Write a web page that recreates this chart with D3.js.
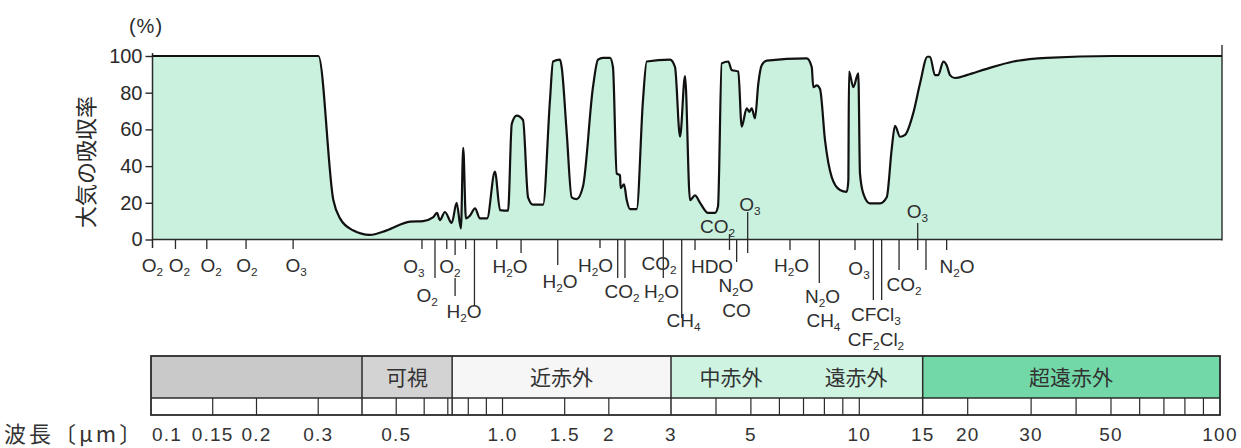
<!DOCTYPE html>
<html>
<head>
<meta charset="utf-8">
<script src="https://cdn.jsdelivr.net/npm/d3@7"></script>
<style>
  body { margin: 0; background: #fff; }
  svg { display: block; }
</style>
</head>
<body>
<svg id="chart" width="1241" height="448"></svg>
<script>
// ---- Atmospheric absorption spectrum: absorption (%) against wavelength (µm) ----
const wavelength = [
  0.1, 0.292, 0.3215, 0.3357, 0.365, 0.407, 0.454, 0.528, 0.574, 0.612,
  0.628, 0.640, 0.661, 0.691, 0.713, 0.733, 0.744, 0.757, 0.777, 0.803,
  0.829, 0.868, 0.913, 0.944, 0.994, 1.018, 1.051, 1.095, 1.131, 1.168,
  1.246, 1.303, 1.329, 1.390, 1.405, 1.452, 1.499, 1.548, 1.613, 1.720,
  1.777, 1.835, 1.920, 1.957, 2.005, 2.048, 2.057, 2.102, 2.139, 2.185,
  2.281, 2.376, 2.434, 2.829, 2.922, 3.018, 3.117, 3.219, 3.325, 3.435,
  3.616, 3.783, 3.857, 3.950, 4.122, 4.213, 4.397, 4.495, 4.642, 4.721,
  4.795, 4.898, 5.004, 5.115, 5.284, 6.841, 7.065, 7.139, 7.297, 7.455,
  7.70, 8.04, 8.48, 8.86, 8.95, 8.99, 9.243, 9.546, 9.65, 9.86,
  10.29, 10.98, 11.47, 11.84, 12.10, 12.50, 12.91, 13.62, 14.22, 14.92,
  15.17, 15.66, 16.00, 16.53, 16.89, 17.26, 17.82, 19.22, 21.88, 25.98,
  32.24, 49.46, 100
];
const absorption = [
  100, 100, 21.5, 11.5, 5, 2.5, 5, 9.7, 10, 12,
  14.5, 10.6, 15, 9, 20, 6, 50, 11.5, 13, 17,
  11.5, 11.5, 37, 16, 15.7, 63, 67.5, 65, 23, 19,
  19, 76, 97, 98, 94, 58, 23, 22, 29, 83,
  98, 99, 99, 94, 36, 35, 28, 30, 21.5, 16.6,
  16.6, 76, 97, 98, 94, 56, 89, 21.5, 24, 20,
  14.5, 14.5, 18, 96, 97, 92.4, 91.5, 61.5, 71.5, 69.6,
  71.5, 66, 85, 95, 97.5, 98.7, 94, 83, 84, 82,
  54, 34, 27, 26, 32, 91.5, 83, 90.5, 36, 25,
  19.7, 19.7, 23, 49, 62, 56, 57, 69, 85, 99.6,
  99.6, 89.6, 89.6, 97, 95, 89.6, 88, 89.6, 93, 97,
  99, 100, 100
];

const yTicks = [0, 20, 40, 60, 80, 100];

// Marker lines for absorbing gases (µm)
const markerAt = [
  0.116, 0.142, 0.183, 0.248, 0.570, 0.620, 0.669, 0.706, 0.706, 0.756,
  0.800, 0.924, 1.081, 1.370, 1.800, 2.018, 2.115, 2.709, 3.051, 3.325,
  4.154, 4.351, 4.672, 6.141, 7.420, 9.344, 10.52, 11.10, 12.42, 14.01,
  14.78, 16.89
];
// Gas names ("_n" = subscript) and the wavelength each name is centred on (µm)
const gasName = [
  "O_2", "O_2", "O_2", "O_2", "O_3", "O_3", "O_2", "O_2", "H_2O", "H_2O",
  "H_2O", "H_2O", "CO_2", "CO_2", "H_2O", "CH_4", "HDO", "CO_2", "N_2O", "CO",
  "O_3", "H_2O", "N_2O", "CH_4", "O_3", "CFCl_3", "CF_2Cl_2", "CO_2", "O_3", "N_2O"
];
const gasAt = [
  0.1, 0.119, 0.146, 0.184, 0.253, 0.541, 0.683, 0.589, 0.748, 1.007,
  1.390, 1.748, 2.075, 2.635, 2.678, 3.087, 3.711, 3.845, 4.331, 4.35,
  4.742, 6.200, 7.576, 7.62, 9.590, 10.70, 10.70, 12.82, 13.99, 18.06
];

// Wavelength regions of the spectrum bar
const regionEdges = [0.1, 0.4, 0.72, 3, 15, 100];
const regionNames = ["", "可視", "近赤外", "", "超遠赤外"];
const subRegionNames = ["中赤外", "遠赤外"];
const subRegionAt = [4.4, 9.8];
const scaleTicks = [0.15, 0.2, 0.3, 0.5, 0.6, 0.7, 0.8, 0.9, 1, 1.5, 2,
  4, 5, 6, 7, 8, 9, 10, 20, 30, 40, 50, 60, 70, 80, 90];
const scaleLabels = ["0.1", "0.15", "0.2", "0.3", "0.5", "1.0", "1.5", "2",
  "3", "5", "10", "15", "20", "30", "50", "100"];

// ---- layout ----
const markerSpan = [
  [240, 249], [240, 249], [240, 249], [240, 249], [240, 249], [240, 278], [240, 249], [240, 255], [278, 296], [240, 249],
  [240, 305], [240, 249], [240, 253], [240, 265], [240, 248], [240, 278], [240, 278], [240, 278], [240, 318], [240, 250],
  [234, 250], [240, 262], [212, 253], [240, 250], [240, 283], [240, 250], [240, 300], [240, 300], [240, 270], [223, 250],
  [240, 270], [240, 250]
];
const gasBaseline = [
  272, 272, 272, 272, 272, 273, 273, 302, 318, 273,
  288, 272, 298, 270, 298, 327, 273, 233, 292, 317,
  211, 272, 303, 327, 275, 321, 346, 291, 218, 273
];
const regionFill = ["#c9c9c9", "#d3d3d3", "#f6f6f6", "#cff3e1", "#72d8a8"];

const INK = "#2a2a2a";
const LATIN = "'Liberation Sans', Arial, sans-serif";
const CJK = "'Noto Sans CJK JP', 'Noto Sans CJK SC', sans-serif";

const svg = d3.select("#chart");
const x = d3.scaleLog().domain([0.1, 100]).range([152.5, 1222]);
const y = d3.scaleLinear().domain([0, 100]).range([239.5, 56]);
const bandX = d3.scaleLog().domain([0.1, 0.4, 3, 50, 100]).range([151, 362, 671, 1111, 1220]);

const spectrum = wavelength.map((w, i) => ({ w, a: absorption[i] }));

// filled absorption area
svg.append("path")
  .datum(spectrum)
  .attr("fill", "#c9f1de")
  .attr("d", d3.area()
    .x(d => x(d.w)).y0(y(0)).y1(d => y(d.a))
    .curve(d3.curveMonotoneX));

// y axis
const yAxis = svg.append("g")
  .attr("transform", `translate(${x(0.1)},0)`)
  .call(d3.axisLeft(y).tickValues(yTicks).tickSize(7).tickPadding(3));
yAxis.select(".domain").remove();
yAxis.selectAll(".tick line").attr("stroke", INK).attr("stroke-width", 1.4);
yAxis.selectAll(".tick text")
  .attr("font-family", LATIN).attr("font-size", 20).attr("fill", INK);
svg.append("line")
  .attr("x1", x(0.1)).attr("x2", x(0.1)).attr("y1", 53).attr("y2", 248)
  .attr("stroke", INK).attr("stroke-width", 1.5);

// baseline and right frame
svg.append("line")
  .attr("x1", x(0.1)).attr("x2", x(100)).attr("y1", y(0)).attr("y2", y(0))
  .attr("stroke", INK).attr("stroke-width", 1.6);
svg.append("line")
  .attr("x1", x(100)).attr("x2", x(100)).attr("y1", 45).attr("y2", y(0) + 1)
  .attr("stroke", INK).attr("stroke-width", 1.4);

// absorption curve
svg.append("path")
  .datum(spectrum)
  .attr("fill", "none")
  .attr("stroke", "#111")
  .attr("stroke-width", 2.2)
  .attr("stroke-linejoin", "round")
  .attr("d", d3.line()
    .x(d => x(d.w)).y(d => y(d.a))
    .curve(d3.curveMonotoneX));

// axis titles
svg.append("text")
  .attr("x", 146).attr("y", 33).attr("text-anchor", "middle")
  .attr("font-family", LATIN).attr("font-size", 20).attr("fill", INK)
  .attr("letter-spacing", 1)
  .text("(%)");
svg.append("text")
  .attr("transform", "translate(94,162) rotate(-90)")
  .attr("text-anchor", "middle")
  .attr("font-family", CJK).attr("font-size", 22).attr("fill", INK)
  .text("大気の吸収率");

// gas marker lines
svg.append("g").selectAll("line")
  .data(markerAt)
  .join("line")
  .attr("x1", d => x(d)).attr("x2", d => x(d))
  .attr("y1", (d, i) => markerSpan[i][0])
  .attr("y2", (d, i) => markerSpan[i][1])
  .attr("stroke", INK).attr("stroke-width", 1.3);

// chemical formula with subscripts
function formula(sel, str, size) {
  const parts = str.split(/(_\d)/).filter(p => p);
  let lowered = false;
  parts.forEach(p => {
    if (p[0] === "_") {
      sel.append("tspan").attr("font-size", size * 0.62).attr("dy", 4).text(p.slice(1));
      lowered = true;
    } else {
      const t = sel.append("tspan").text(p);
      if (lowered) { t.attr("dy", -4); lowered = false; }
    }
  });
}

const gasG = svg.append("g");
gasName.forEach((name, i) => {
  const t = gasG.append("text")
    .attr("x", x(gasAt[i])).attr("y", gasBaseline[i])
    .attr("text-anchor", "middle")
    .attr("font-family", LATIN).attr("font-size", 19).attr("fill", "#2e2e2e");
  formula(t, name, 19);
});

// ---- spectrum bar ----
const barTop = 356, barMid = 398, barBottom = 415;
const band = svg.append("g");
band.selectAll("rect.region")
  .data(regionNames)
  .join("rect")
  .attr("class", "region")
  .attr("x", (d, i) => bandX(regionEdges[i]))
  .attr("width", (d, i) => bandX(regionEdges[i + 1]) - bandX(regionEdges[i]))
  .attr("y", barTop).attr("height", barMid - barTop)
  .attr("fill", (d, i) => regionFill[i]);
band.append("rect")
  .attr("x", bandX(0.1)).attr("y", barMid)
  .attr("width", bandX(100) - bandX(0.1)).attr("height", barBottom - barMid)
  .attr("fill", "#fff");

band.selectAll("text.region")
  .data(regionNames)
  .join("text")
  .attr("class", "region")
  .attr("x", (d, i) => bandX(Math.sqrt(regionEdges[i] * regionEdges[i + 1])))
  .attr("y", 385).attr("text-anchor", "middle")
  .attr("font-family", CJK).attr("font-size", 21).attr("fill", "#333")
  .text(d => d);
band.selectAll("text.sub")
  .data(subRegionNames)
  .join("text")
  .attr("class", "sub")
  .attr("x", (d, i) => bandX(subRegionAt[i]))
  .attr("y", 385).attr("text-anchor", "middle")
  .attr("font-family", CJK).attr("font-size", 21).attr("fill", "#333")
  .text(d => d);

// scale ticks in the lower strip
band.selectAll("line.tick")
  .data(scaleTicks)
  .join("line")
  .attr("class", "tick")
  .attr("x1", d => bandX(d)).attr("x2", d => bandX(d))
  .attr("y1", barMid).attr("y2", barBottom)
  .attr("stroke", INK).attr("stroke-width", 1.2);
// region boundaries
band.selectAll("line.edge")
  .data(regionEdges.slice(1, -1))
  .join("line")
  .attr("class", "edge")
  .attr("x1", d => bandX(d)).attr("x2", d => bandX(d))
  .attr("y1", barTop).attr("y2", barBottom)
  .attr("stroke", INK).attr("stroke-width", 1.5);
band.append("line")
  .attr("x1", bandX(0.1)).attr("x2", bandX(100))
  .attr("y1", barMid).attr("y2", barMid)
  .attr("stroke", INK).attr("stroke-width", 1.5);
band.append("rect")
  .attr("x", bandX(0.1)).attr("y", barTop)
  .attr("width", bandX(100) - bandX(0.1)).attr("height", barBottom - barTop)
  .attr("fill", "none").attr("stroke", INK).attr("stroke-width", 1.8);

// wavelength labels
band.selectAll("text.wl")
  .data(scaleLabels)
  .join("text")
  .attr("class", "wl")
  .attr("x", (d, i) => i === 0 ? bandX(+d) + 1 : bandX(+d))
  .attr("y", 441)
  .attr("text-anchor", (d, i) => i === 0 ? "start" : "middle")
  .attr("font-family", LATIN)
  .attr("font-size", 19).attr("letter-spacing", 1.2).attr("fill", "#333")
  .text(d => d);

svg.append("text")
  .attr("x", 4).attr("y", 442)
  .attr("font-family", CJK).attr("font-size", 22).attr("letter-spacing", 3)
  .attr("fill", "#333")
  .text("波長〔μm〕");
</script>
</body>
</html>
